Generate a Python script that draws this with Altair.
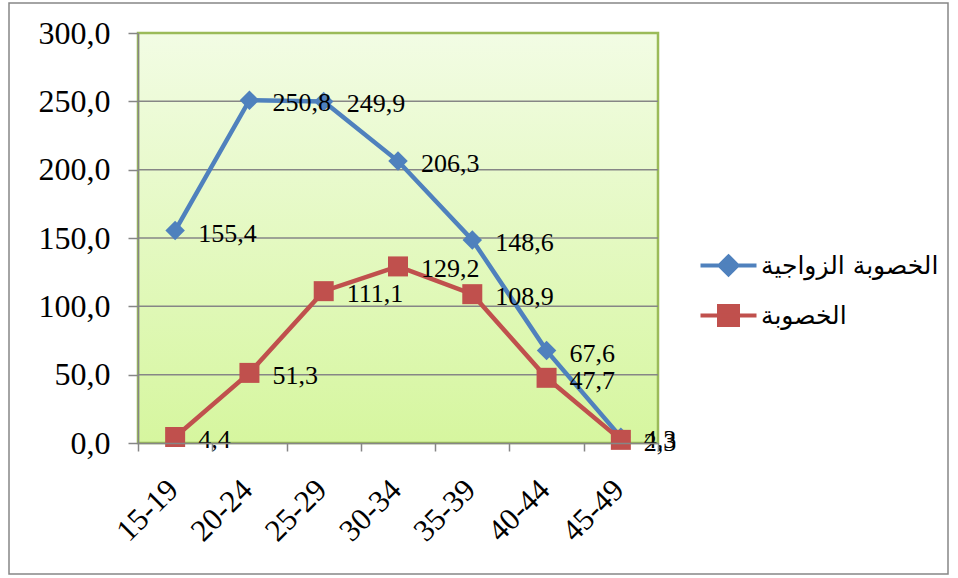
import altair as alt
import pandas as pd

# ---- data ----
age_groups = ["15-19", "20-24", "25-29", "30-34", "35-39", "40-44", "45-49"]
marital_fertility = [155.4, 250.8, 249.9, 206.3, 148.6, 67.6, 4.3]
fertility = [4.4, 51.3, 111.1, 129.2, 108.9, 47.7, 2.3]
series_names = ["الخصوبة الزواجية", "الخصوبة"]
y_ticks = [0, 50, 100, 150, 200, 250, 300]

BLUE = "#4F81BD"
RED = "#C0504D"
GRID = "#868686"

rows = []
for a, v in zip(age_groups, marital_fertility):
    rows.append({"age": a, "value": v, "series": series_names[0]})
for a, v in zip(age_groups, fertility):
    rows.append({"age": a, "value": v, "series": series_names[1]})
df = pd.DataFrame(rows)
grid_df = pd.DataFrame({"value": [t for t in y_ticks if 0 < t < max(y_ticks)]})
one = pd.DataFrame({"k": [0]})

W, H = 520, 410

x_enc = alt.X("age:N", sort=age_groups, title=None,
              axis=alt.Axis(labelAngle=-45, labelAlign="right", labelBaseline="middle",
                            labelFont="Liberation Serif", labelFontSize=31, labelColor="#000",
                            tickBand="extent", tickSize=8, tickColor=GRID, tickWidth=1.5,
                            domainColor=GRID, domainWidth=1.5, labelPadding=34,
                            labelOffset=-2, grid=False, zindex=1),
              scale=alt.Scale(paddingInner=0, paddingOuter=0))
y_scale = alt.Scale(domain=[0, 300], nice=False)
y_axis = alt.Axis(values=y_ticks, grid=False, tickSize=10, tickColor=GRID, tickWidth=1.5,
                  domainColor=GRID, domainWidth=1.5, labelPadding=18,
                  labelFont="Liberation Serif", labelFontSize=32, labelColor="#000",
                  labelExpr="replace(format(datum.value, '.1f'), '.', ',')", zindex=1)
y_enc = alt.Y("value:Q", scale=y_scale, title=None, axis=y_axis)

color_scale = alt.Scale(domain=series_names, range=[BLUE, RED])
shape_scale = alt.Scale(domain=series_names, range=[
    "M-2.8,0H2.8M0,-0.9L0.9,0L0,0.9L-0.9,0Z",
    "M-2.8,0H2.8M-0.95,-0.95H0.95V0.95H-0.95Z",
])

legend = alt.Legend(title=None, orient="none", legendX=578, legendY=220,
                    symbolSize=400, symbolStrokeWidth=4, labelOffset=20, rowPadding=15,
                    labelFont="DejaVu Sans", labelFontSize=25, labelColor="#000",
                    labelLimit=400)

bg = alt.Chart(one).mark_rect(
    fill=alt.Gradient(gradient="linear", x1=0, x2=0, y1=0, y2=1,
                      stops=[alt.GradientStop(color="#F2FCE4", offset=0),
                             alt.GradientStop(color="#D6F69F", offset=1)]),
    stroke="#9BBB59", strokeWidth=2.5
).encode(x=alt.value(0), x2=alt.value(W), y=alt.value(0), y2=alt.value(H))

outer = alt.Chart(one).mark_rect(fill=None, stroke=GRID, strokeWidth=1.5).encode(
    x=alt.value(-129), x2=alt.value(810), y=alt.value(-30), y2=alt.value(541))

grid = alt.Chart(grid_df).mark_rule(color=GRID, strokeWidth=1.5).encode(
    y=alt.Y("value:Q", scale=y_scale, title=None, axis=y_axis))

lines = alt.Chart(df).mark_line(strokeWidth=4.5).encode(
    x=x_enc, y=y_enc,
    stroke=alt.Stroke("series:N", scale=color_scale, legend=legend))

blue_pts = alt.Chart(df).transform_filter(
    alt.datum.series == series_names[0]
).mark_point(shape="diamond", filled=True, size=380, opacity=1, color=BLUE).encode(x=x_enc, y=y_enc)

red_pts = alt.Chart(df).transform_filter(
    alt.datum.series == series_names[1]
).mark_point(shape="square", filled=True, size=400, opacity=1, color=RED).encode(x=x_enc, y=y_enc)

legend_layer = alt.Chart(df).transform_filter("false").mark_point(
    filled=True, opacity=1, strokeWidth=4
).encode(
    x=x_enc, y=y_enc,
    shape=alt.Shape("series:N", scale=shape_scale, legend=legend),
    fill=alt.Fill("series:N", scale=color_scale, legend=legend),
    stroke=alt.Stroke("series:N", scale=color_scale, legend=legend),
)

labels = alt.Chart(df).transform_calculate(
    lab="replace(format(datum.value, '.1f'), '.', ',')"
).mark_text(align="left", baseline="middle", dx=23, dy=3,
            font="Liberation Serif", fontSize=26, color="#000").encode(
    x=x_enc, y=y_enc, text="lab:N")

chart = alt.layer(bg, outer, grid, lines, blue_pts, red_pts, legend_layer, labels).properties(
    width=W, height=H,
    padding={"left": 138, "top": 33, "right": 300, "bottom": 135},
    autosize=alt.AutoSizeParams(type="none"),
).configure_view(stroke=None).configure(background="white")

chart.save("out.html", embed_options={"renderer": "svg", "actions": False})
